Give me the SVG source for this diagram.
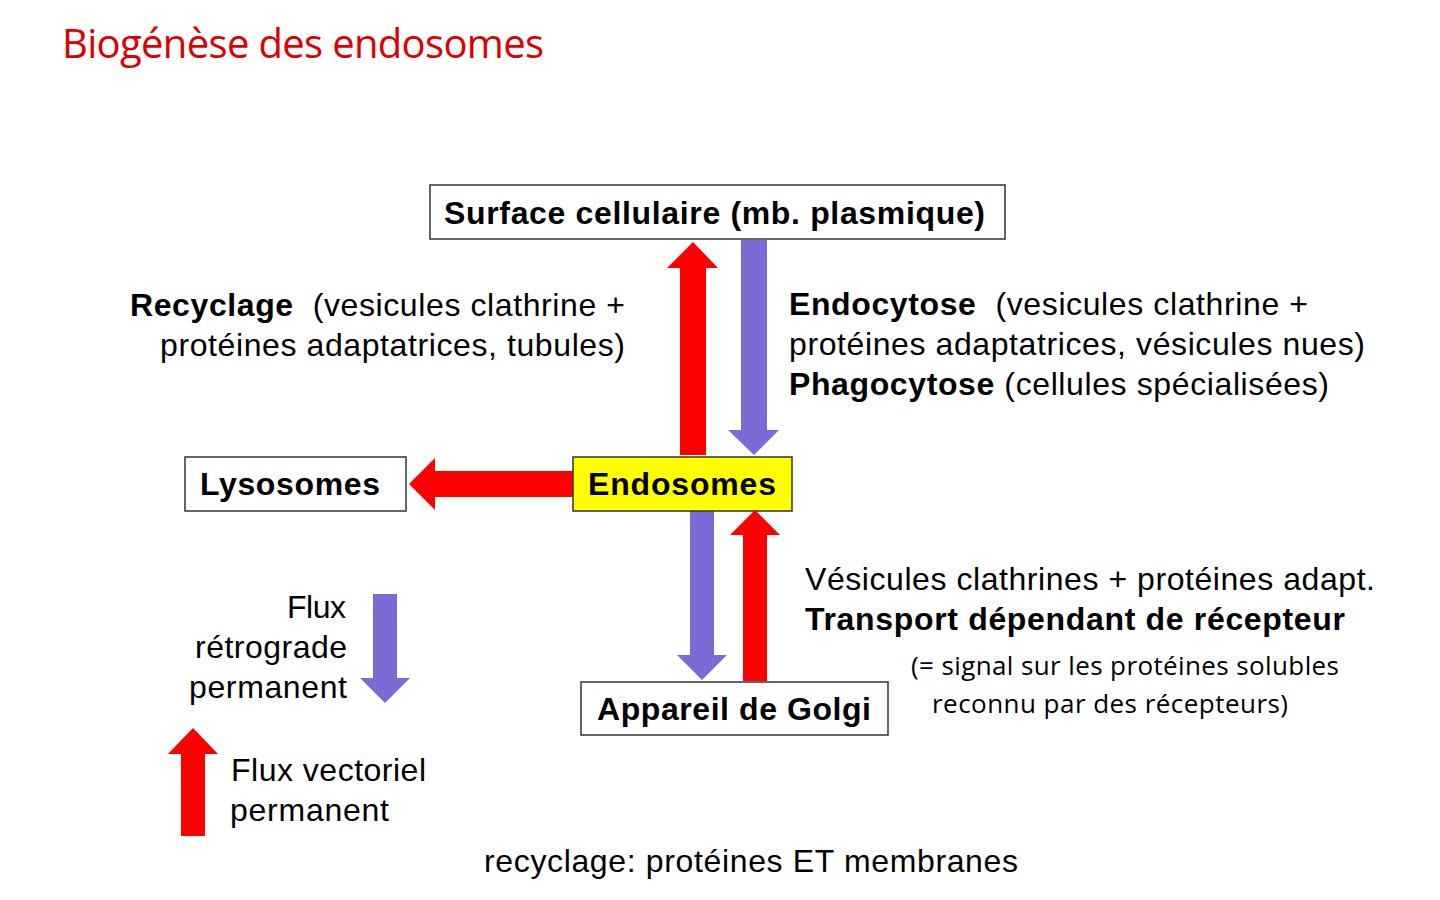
<svg xmlns="http://www.w3.org/2000/svg" width="1440" height="900" viewBox="0 0 1440 900">
<style>
.box{fill:#fff;stroke:#333;stroke-width:1.5}
.lbl{font-family:"Liberation Sans",Arial,sans-serif;font-size:32px;fill:#000}
.b{font-weight:bold}
.cal{font-family:"Open Sans","Noto Sans",sans-serif;font-size:26px;fill:#000}
.red{fill:#ff0000}
.pur{fill:#7b6bd4}
</style>
<rect width="1440" height="900" fill="#fff"/>
<text x="62" y="58" font-family="'Open Sans','Noto Sans',sans-serif" font-size="40" fill="#dd0000" textLength="482">Biogénèse des endosomes</text>

<g id="connectors">
  <polygon class="red" points="680,455 680,268 667,268 693,242 718,268 706,268 706,455"/>
  <polygon class="pur" points="741,240 767,240 767,430 779,430 754,455 728,430 741,430"/>
  <polygon class="red" points="573,471 435,471 435,458 409,484 435,510 435,497 573,497"/>
  <polygon class="pur" points="690,511 714,511 714,655 727,655 702,680 677,655 690,655"/>
  <polygon class="red" points="743,681 743,535 730,535 755,510 780,535 767,535 767,681"/>
</g>

<g id="surface">
  <rect class="box" x="430" y="185" width="575" height="54"/>
  <text class="lbl b" x="444" y="224" textLength="541">Surface cellulaire (mb. plasmique)</text>
</g>
<g id="endosomes">
  <rect x="573" y="457" width="219" height="54" fill="#ffff00" stroke="#333" stroke-width="1.5"/>
  <text class="lbl b" x="588" y="495" textLength="188">Endosomes</text>
</g>
<g id="lysosomes">
  <rect class="box" x="185" y="457" width="221" height="54"/>
  <text class="lbl b" x="200" y="495" textLength="180">Lysosomes</text>
</g>
<g id="golgi">
  <rect class="box" x="581" y="682" width="307" height="53"/>
  <text class="lbl b" x="597" y="720" textLength="274">Appareil de Golgi</text>
</g>

<g id="recyclage-label">
  <text class="lbl" x="130" y="316" textLength="495" xml:space="preserve"><tspan class="b">Recyclage</tspan>  (vesicules clathrine +</text>
  <text class="lbl" x="160" y="356" textLength="465">protéines adaptatrices, tubules)</text>
</g>
<g id="endocytose-label">
  <text class="lbl" x="789" y="315" textLength="519" xml:space="preserve"><tspan class="b">Endocytose</tspan>  (vesicules clathrine +</text>
  <text class="lbl" x="789" y="355" textLength="576">protéines adaptatrices, vésicules nues)</text>
  <text class="lbl" x="789" y="395" textLength="540"><tspan class="b">Phagocytose</tspan> (cellules spécialisées)</text>
</g>
<g id="golgi-label">
  <text class="lbl" x="805" y="590" textLength="570">Vésicules clathrines + protéines adapt.</text>
  <text class="lbl b" x="805" y="630" textLength="540">Transport dépendant de récepteur</text>
  <text class="cal" x="911" y="675" textLength="428">(= signal sur les protéines solubles</text>
  <text class="cal" x="932" y="713" textLength="356">reconnu par des récepteurs)</text>
</g>

<g id="legend">
  <polygon class="pur" points="373,594 397,594 397,678 410,678 385,703 360,678 373,678"/>
  <text class="lbl" x="287" y="618" textLength="59">Flux</text>
  <text class="lbl" x="195" y="658" textLength="152">rétrograde</text>
  <text class="lbl" x="189" y="698" textLength="158">permanent</text>
  <polygon class="red" points="181,836 181,754 168,754 193,728 218,754 205,754 205,836"/>
  <text class="lbl" x="231" y="781" textLength="195">Flux vectoriel</text>
  <text class="lbl" x="230" y="821" textLength="159">permanent</text>
</g>

<text class="lbl" x="484" y="872" textLength="534">recyclage: protéines ET membranes</text>
</svg>
